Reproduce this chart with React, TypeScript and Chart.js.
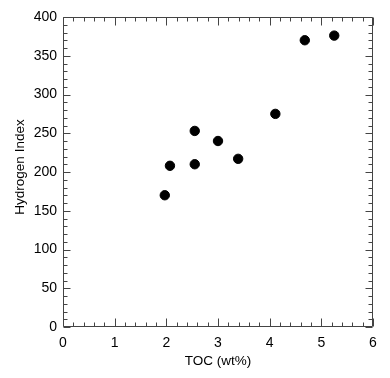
import React, { useEffect, useRef } from "react";
import { Chart, registerables } from "chart.js";

Chart.register(...registerables);

const tocValues = [1.97, 2.07, 2.55, 2.55, 3.0, 3.39, 4.11, 4.68, 5.25];
const hiValues = [170, 208, 253, 210, 240, 217, 275, 370, 376];
const xTitle = "TOC (wt%)";
const yTitle = "Hydrogen Index";

const FONT = "'Liberation Sans', Arial, Helvetica, sans-serif";

const framePlugin = {
  id: "frameTicks",
  afterDraw(chart: any) {
    const { ctx, chartArea } = chart;
    const xs = chart.scales.x;
    const ys = chart.scales.y;
    const l = Math.round(chartArea.left) + 0.5;
    const r = Math.round(chartArea.right) - 0.5;
    const t = Math.round(chartArea.top) + 0.5;
    const b = Math.round(chartArea.bottom) - 0.5;
    ctx.save();
    ctx.strokeStyle = "#444";
    ctx.lineWidth = 1;
    ctx.beginPath();
    ctx.rect(l, t, r - l, b - t);
    ctx.stroke();
    ctx.beginPath();
    for (let i = 0; i <= 30; i++) {
      const v = i * 0.2;
      const px = Math.round(xs.getPixelForValue(v)) + 0.5;
      const len = i % 5 === 0 ? 8 : 4;
      ctx.moveTo(px, b);
      ctx.lineTo(px, b - len);
      ctx.moveTo(px, t);
      ctx.lineTo(px, t + len);
    }
    for (let i = 0; i <= 40; i++) {
      const v = i * 10;
      const py = Math.round(ys.getPixelForValue(v)) + 0.5;
      const len = i % 5 === 0 ? 7 : 4;
      ctx.moveTo(l, py);
      ctx.lineTo(l + len, py);
      ctx.moveTo(r, py);
      ctx.lineTo(r - len, py);
    }
    ctx.stroke();
    ctx.fillStyle = "#000";
    ctx.font = "13.5px " + FONT;
    ctx.textAlign = "center";
    ctx.textBaseline = "middle";
    ctx.translate(20, 167);
    ctx.rotate(-Math.PI / 2);
    ctx.fillText(yTitle, 0, 0);
    ctx.restore();
  },
};

export default function App() {
  const ref = useRef<HTMLCanvasElement | null>(null);
  useEffect(() => {
    if (!ref.current) return;
    const data = tocValues.map((x, i) => ({ x, y: hiValues[i] }));
    const chart = new Chart(ref.current, {
      type: "scatter",
      data: {
        datasets: [
          {
            data,
            backgroundColor: "#000",
            borderColor: "#000",
            pointRadius: 4.7,
            pointHoverRadius: 4.7,
          },
        ],
      },
      options: {
        responsive: false,
        animation: false,
        devicePixelRatio: 1,
        layout: { padding: { top: 17, right: 17, left: 0, bottom: 0 } },
        plugins: { legend: { display: false }, tooltip: { enabled: false } },
        scales: {
          x: {
            type: "linear",
            min: 0,
            max: 6,
            grid: { display: false, drawTicks: false },
            border: { display: false },
            ticks: {
              stepSize: 1,
              padding: 8,
              color: "#000",
              font: { family: FONT, size: 14 },
              maxRotation: 0,
            },
            title: {
              display: true,
              text: xTitle,
              color: "#000",
              font: { family: FONT, size: 13.5 },
              padding: { top: 0, bottom: 9 },
            },
            afterFit(scale: any) {
              scale.height = 51;
            },
          },
          y: {
            type: "linear",
            min: 0,
            max: 400,
            grid: { display: false, drawTicks: false },
            border: { display: false },
            ticks: {
              stepSize: 50,
              padding: 6,
              color: "#000",
              font: { family: FONT, size: 14 },
            },
            title: { display: false },
            afterFit(scale: any) {
              scale.width = 63;
            },
          },
        },
      },
      plugins: [framePlugin],
    });
    return () => chart.destroy();
  }, []);
  return (
    <div style={{ position: "absolute", left: 0, top: 0, width: 390, height: 378, background: "#fff" }}>
      <canvas ref={ref} width={390} height={378} />
    </div>
  );
}
